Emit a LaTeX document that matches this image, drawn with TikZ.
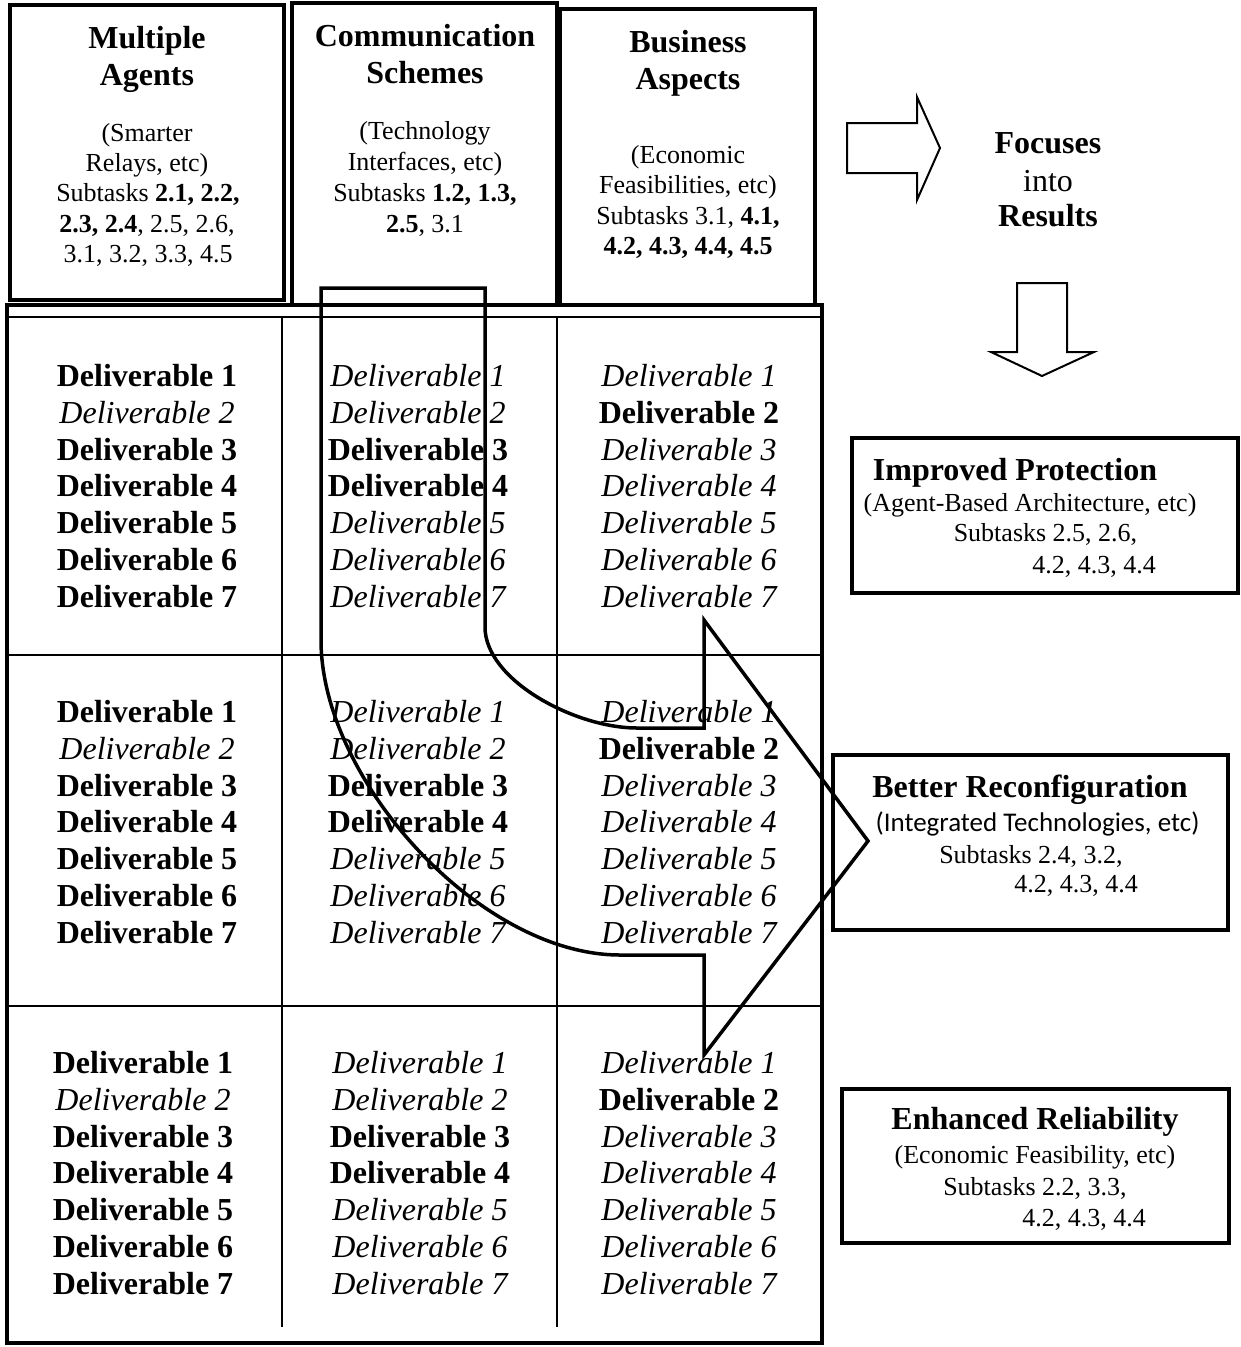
\documentclass[tikz,border=0pt]{standalone}
\usepackage{fontspec}
\setmainfont{Liberation Serif}
\newfontfamily\calibrifont{Carlito}
\begin{document}
\begin{tikzpicture}[x=1pt,y=-1pt,
  box/.style={draw, line width=4pt, inner sep=0pt, outer sep=0pt},
  rbox/.style={draw, line width=3.5pt, inner sep=0pt, outer sep=0pt},
  hd/.style={inner sep=0pt, text height=22.4pt, text depth=1.3pt, font=\fontsize{32}{37}\selectfont\bfseries},
  rg/.style={inner sep=0pt, text height=22.4pt, text depth=1.3pt, font=\fontsize{32}{37}\selectfont},
  sm/.style={inner sep=0pt, text height=18.2pt, text depth=1pt, font=\fontsize{26}{30}\selectfont},
  smc/.style={inner sep=0pt, text height=18.9pt, text depth=1.1pt, font=\fontsize{27}{30}\selectfont\calibrifont},
  dlB/.style={inner sep=0pt, text height=22.4pt, text depth=1.3pt, font=\fontsize{32}{37}\selectfont\bfseries},
  dlI/.style={inner sep=0pt, text height=22.4pt, text depth=1.3pt, font=\fontsize{32}{37}\selectfont\itshape},
  grid/.style={line width=2pt},
  flow/.style={line width=3.5pt, line join=miter},
  hollow/.style={line width=2pt, line join=miter}]

\useasboundingbox (0,0) rectangle (1241,1347);

% ---- column headers ----
\node[box, minimum width=274pt, minimum height=295pt] (agents) at (147,152.5) {};
\node[box, minimum width=265pt, minimum height=302pt] (comms) at (424.5,154) {};
\node[box, minimum width=255pt, minimum height=296pt] (business) at (687.5,157) {};

\node[hd] (agents-t1) at (147,38) {Multiple};
\node[hd] (agents-t2) at (147,75) {Agents};
\node[sm] (agents-s1) at (147,133) {(Smarter};
\node[sm] (agents-s2) at (147,163) {Relays, etc)};
\node[sm] (agents-s3) at (148,193) {Subtasks \textbf{2.1, 2.2,}};
\node[sm] (agents-s4) at (147,224) {\textbf{2.3, 2.4}, 2.5, 2.6,};
\node[sm] (agents-s5) at (148,254) {3.1, 3.2, 3.3, 4.5};

\node[hd] (comms-t1) at (425,36) {Communication};
\node[hd] (comms-t2) at (425,73) {Schemes};
\node[sm] (comms-s1) at (425,131) {(Technology};
\node[sm] (comms-s2) at (425,162) {Interfaces, etc)};
\node[sm] (comms-s3) at (425,193) {Subtasks \textbf{1.2, 1.3,}};
\node[sm] (comms-s4) at (425,224) {\textbf{2.5}, 3.1};

\node[hd] (business-t1) at (688,42) {Business};
\node[hd] (business-t2) at (688,79) {Aspects};
\node[sm] (business-s1) at (688,155) {(Economic};
\node[sm] (business-s2) at (688,185) {Feasibilities, etc)};
\node[sm] (business-s3) at (688,216) {Subtasks 3.1, \textbf{4.1,}};
\node[sm] (business-s4) at (688,246) {\textbf{4.2, 4.3, 4.4, 4.5}};

% ---- deliverables table ----
\node[draw, line width=4pt, inner sep=0pt, outer sep=0pt,
      minimum width=815pt, minimum height=1038pt] (table) at (414.5,824) {};
\draw[grid] (7,317) -- (822,317);
\draw[grid] (7,655) -- (822,655);
\draw[grid] (7,1006) -- (822,1006);
\draw[grid] (282,317) -- (282,1327);
\draw[grid] (557,317) -- (557,1327);

\foreach \r/\ry/\xa/\xb in {1/376/147/418, 2/712/147/418, 3/1063/143/420} {
  \foreach \k/\sa/\sb/\sc in {1/B/I/I, 2/I/I/B, 3/B/B/I, 4/B/B/I, 5/B/I/I, 6/B/I/I, 7/B/I/I} {
    \node[dl\sa] (d\r-a\k) at (\xa,{\ry+36.8*(\k-1)}) {Deliverable \k};
    \node[dl\sb] (d\r-b\k) at (\xb,{\ry+36.8*(\k-1)}) {Deliverable \k};
    \node[dl\sc] (d\r-c\k) at (689,{\ry+36.8*(\k-1)}) {Deliverable \k};
  }
}

% ---- focusing arrow through the table ----
\draw[flow] (321,288) -- (485,288) -- (485,627)
  .. controls (485,680) and (575,728) .. (637,728)
  -- (704,728) -- (704,620) -- (868,841) -- (704,1055) -- (704,955) -- (620,955)
  .. controls (480,955) and (321,780) .. (321,640) -- cycle;

% ---- "Focuses into Results" ----
\draw[hollow] (847,123) -- (917,123) -- (917,97) -- (940,148) -- (917,200)
  -- (917,173) -- (847,173) -- cycle;
\node[hd] (focus-1) at (1048,143) {Focuses};
\node[rg] (focus-2) at (1048,181) {into};
\node[hd] (focus-3) at (1048,216) {Results};
\draw[hollow] (1017,283) -- (1067,283) -- (1067,352) -- (1094,352) -- (1042,376)
  -- (991,352) -- (1017,352) -- cycle;

% ---- results ----
\node[rbox, minimum width=386pt, minimum height=155pt] (protection) at (1045,515.5) {};
\node[hd] (protection-t) at (1015,470) {Improved Protection};
\node[sm] (protection-s1) at (1030,503) {(Agent-Based Architecture, etc)};
\node[sm] (protection-s2) at (1045.5,533) {Subtasks 2.5, 2.6,};
\node[sm] (protection-s3) at (1094,565) {4.2, 4.3, 4.4};

\node[rbox, minimum width=395pt, minimum height=175pt] (reconfig) at (1030.5,842.5) {};
\node[hd] (reconfig-t) at (1030,787) {Better Reconfiguration};
\node[smc] (reconfig-s1) at (1037.5,823) {(Integrated Technologies, etc)};
\node[sm] (reconfig-s2) at (1031,855) {Subtasks 2.4, 3.2,};
\node[sm] (reconfig-s3) at (1076,884) {4.2, 4.3, 4.4};

\node[rbox, minimum width=387pt, minimum height=154pt] (reliability) at (1035.5,1166) {};
\node[hd] (reliability-t) at (1035,1119) {Enhanced Reliability};
\node[sm] (reliability-s1) at (1035,1155) {(Economic Feasibility, etc)};
\node[sm] (reliability-s2) at (1035,1187) {Subtasks 2.2, 3.3,};
\node[sm] (reliability-s3) at (1084,1218) {4.2, 4.3, 4.4};

\end{tikzpicture}
\end{document}
